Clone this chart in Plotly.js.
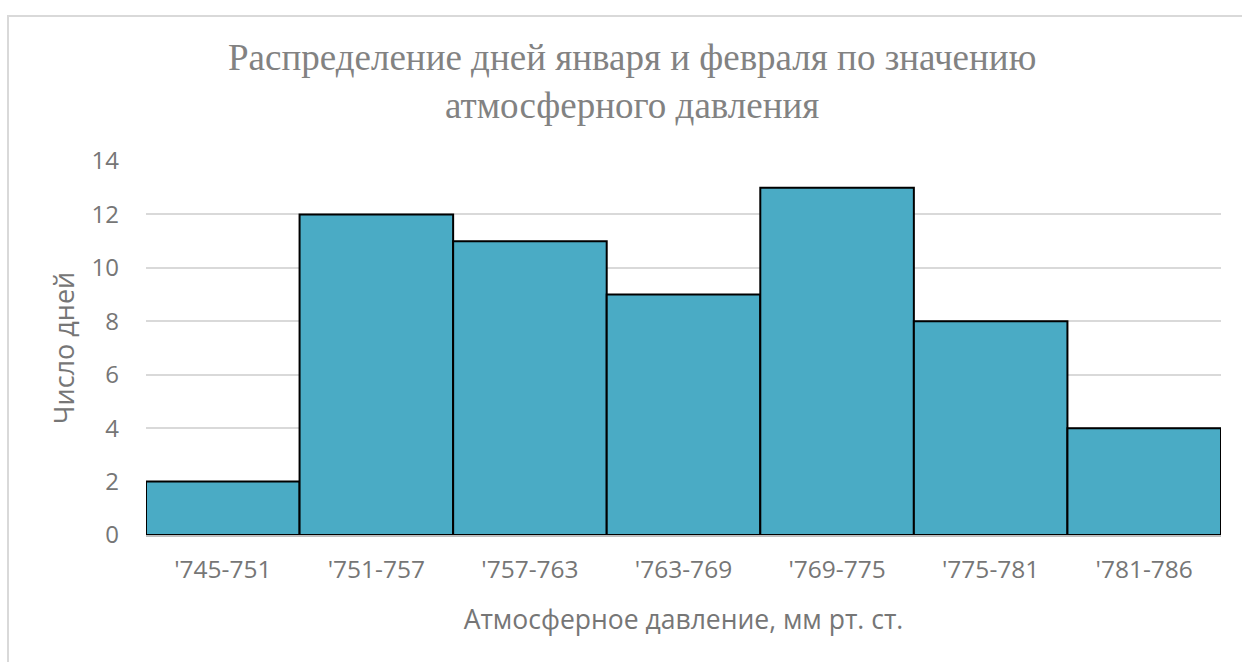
<!DOCTYPE html>
<html>
<head>
<meta charset="utf-8">
<script src="https://cdn.plot.ly/plotly-3.0.1.min.js"></script>
<style>
  html, body { margin: 0; padding: 0; background: #fff; }
  #wrap { position: relative; width: 1242px; height: 662px; }
  #chart { width: 1242px; height: 662px; }
  #frame { position: absolute; left: 7px; top: 15px; width: 1240px; height: 660px;
           border-left: 2px solid #d9d9d9; border-top: 2px solid #d9d9d9; pointer-events: none; }
</style>
</head>
<body>
<div id="wrap">
  <div id="chart"></div>
  <div id="frame"></div>
</div>
<script>
const categories = ["'745-751", "'751-757", "'757-763", "'763-769", "'769-775", "'775-781", "'781-786"];
const days = [2, 12, 11, 9, 13, 8, 4];
const yTicks = [0, 2, 4, 6, 8, 10, 12, 14];

const gray = '#767676';
const sans = '"Open Sans", sans-serif';
const trace = {
  type: 'bar',
  x: categories,
  y: days,
  marker: { color: '#4AABC5', line: { color: '#000000', width: 2 } },
  hoverinfo: 'x+y'
};

const layout = {
  width: 1242, height: 662,
  margin: { l: 146, r: 21, t: 161, b: 127 },
  paper_bgcolor: '#ffffff', plot_bgcolor: '#ffffff',
  bargap: 0,
  showlegend: false,
  title: {
    text: 'Распределение дней января и февраля по значению<br>атмосферного давления',
    font: { family: '"Liberation Serif", "DejaVu Serif", serif', size: 37, color: '#828282' },
    x: 0.509, xref: 'container', xanchor: 'center',
    y: 0.895, yref: 'container', yanchor: 'top'
  },
  xaxis: {
    type: 'category',
    tickfont: { family: sans, size: 24.5, color: gray },
    showline: true, linecolor: '#bfbfbf', linewidth: 2,
    showgrid: false, ticks: '', ticklabelstandoff: 12,
    title: { text: 'Атмосферное давление, мм рт. ст.', font: { family: sans, size: 26.5, color: gray }, standoff: 26 }
  },
  yaxis: {
    range: [0, 14], tickvals: yTicks, ticktext: yTicks.map(String),
    tickfont: { family: sans, size: 24, color: gray },
    showgrid: true, gridcolor: '#d9d9d9', gridwidth: 2,
    zeroline: false, showline: false, ticks: '', ticklabelstandoff: 26,
    title: { text: 'Число дней', font: { family: sans, size: 27, color: gray }, standoff: 9 }
  }
};

Plotly.newPlot('chart', [trace], layout, { displayModeBar: false, staticPlot: true });
</script>
</body>
</html>
